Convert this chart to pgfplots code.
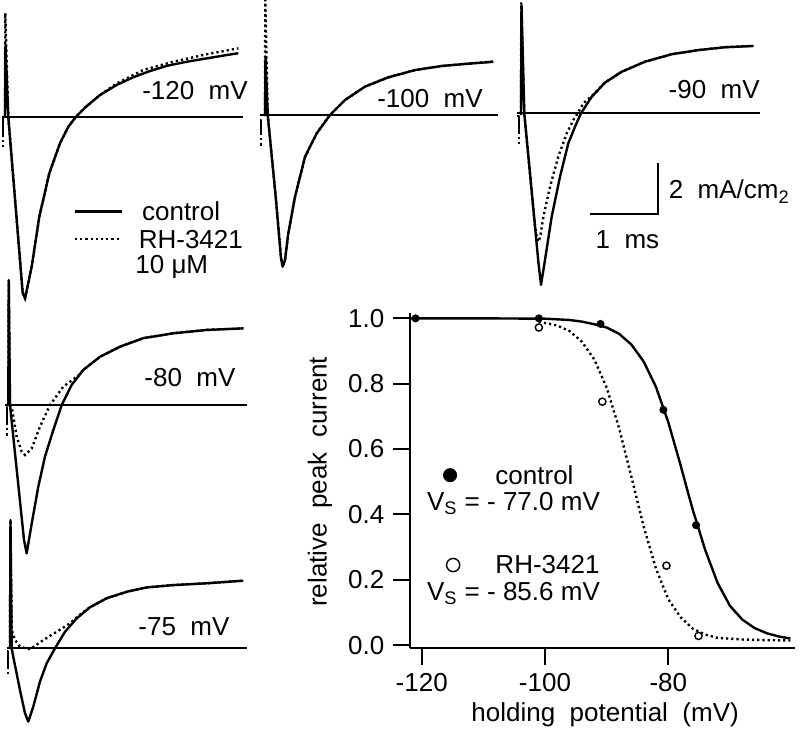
\documentclass[border=0pt]{standalone}
\usepackage{fontspec}
\setmainfont{Liberation Sans}
\usepackage{pgfplots}
\pgfplotsset{compat=1.18}
\begin{document}
\fontsize{13bp}{15bp}\selectfont
\begin{tikzpicture}[font=\fontsize{13bp}{15bp}\selectfont]
\useasboundingbox (0,0) rectangle (400bp,-366.5bp);
\pgfplotsset{
 trace/.style={hide axis, x=34.15bp, y=12.9bp, xmin=-0.1, xmax=3.6, ymin=-8, ymax=5, clip=false, anchor=south west},
 ctl/.style={black, line width=1.2bp, no markers, line join=round},
 rh/.style={black, line width=1.2bp, no markers, dash pattern=on 1.1bp off 1.5bp},
 base/.style={black, line width=0.9bp, no markers},
}
% ---------- -120 mV ----------
\begin{axis}[trace, at={(-0.915bp,-161.55bp)}]
\addplot[base] coordinates {(-0.05,0) (3.49,0)};
\addplot[rh] coordinates {(-0.025,-0.7) (-0.025,-1.2)};
\addplot[ctl] coordinates {(-0.045,-0.06) (-0.025,-0.06) (-0.025,-0.7)};
\addplot[rh] coordinates {(0,0) (0.004,4.02) (0.048,0) (0.259,-6.83) (0.293,-7.04) (0.391,-5.81) (0.502,-3.88) (0.649,-2.19) (0.805,-1.03) (0.927,-0.39) (1.04,0) (1.196,0.41) (1.391,0.84) (1.635,1.29) (2.025,1.81) (2.464,2.13) (2.953,2.42) (3.416,2.65)};
\addplot[ctl] coordinates {(0,-0.05) (0.007,2.78) (0.048,0) (0.259,-6.83) (0.293,-7.04) (0.391,-5.81) (0.502,-3.88) (0.649,-2.19) (0.805,-1.03) (0.927,-0.39) (1.04,0) (1.196,0.41) (1.391,0.84) (1.635,1.23) (1.879,1.53) (2.123,1.77) (2.367,1.97) (2.66,2.13) (2.953,2.26) (3.246,2.39) (3.416,2.46)};
\addplot[ctl] coordinates {(1.025,-3.68) (1.709,-3.68)};
\addplot[rh] coordinates {(1.025,-4.75) (1.709,-4.75)};
\end{axis}
% ---------- -100 mV ----------
\begin{axis}[trace, at={(129.085bp,-160.7bp)}]
\addplot[base] coordinates {(-0.073,0) (3.416,0)};
\addplot[rh] coordinates {(-0.055,-0.7) (-0.055,-1.2)};
\addplot[ctl] coordinates {(-0.07,-0.2) (-0.055,-0.2) (-0.055,-0.7)};
\addplot[rh] coordinates {(0,0) (0.004,4.46) (0.04,0) (0.161,-3.29) (0.234,-5.54) (0.259,-5.88) (0.293,-5.62) (0.341,-4.59) (0.439,-3.17) (0.586,-1.62) (0.757,-0.71) (0.952,0) (1.171,0.58) (1.464,1.10) (1.805,1.46) (2.196,1.74) (2.587,1.90) (2.977,1.99) (3.343,2.08)};
\addplot[ctl] coordinates {(0,-0.04) (0.007,2.26) (0.04,0) (0.161,-3.29) (0.234,-5.54) (0.259,-5.88) (0.293,-5.62) (0.341,-4.59) (0.439,-3.17) (0.586,-1.62) (0.757,-0.71) (0.952,0) (1.171,0.58) (1.464,1.10) (1.805,1.46) (2.196,1.74) (2.587,1.90) (2.977,1.99) (3.343,2.06)};
\end{axis}
% ---------- -90 mV ----------
\begin{axis}[trace, at={(257.085bp,-159.85bp)}]
\addplot[base] coordinates {(-0.063,0) (3.5,0)};
\addplot[rh] coordinates {(-0.03,-0.7) (-0.03,-1.2)};
\addplot[ctl] coordinates {(-0.063,-0.1) (-0.03,-0.1) (-0.03,-0.7)};
\addplot[rh] coordinates {(0,0) (0.004,4.3) (0.048,0) (0.2,-4.27) (0.235,-4.85) (0.254,-4.98) (0.28,-4.8) (0.328,-4.01) (0.425,-2.84) (0.546,-1.68) (0.669,-0.78) (0.766,-0.26) (0.83,0) (0.912,0.39) (1.035,0.66) (1.23,1.19) (1.474,1.61) (1.816,2.0) (2.207,2.29) (2.596,2.45) (2.987,2.56) (3.401,2.61)};
\addplot[ctl] coordinates {(0,-0.07) (0.007,4.2) (0.048,0) (0.254,-5.75) (0.293,-6.65) (0.351,-5.69) (0.449,-4.01) (0.571,-2.46) (0.693,-1.16) (0.791,-0.52) (0.878,0) (1.035,0.64) (1.23,1.19) (1.474,1.61) (1.816,2.0) (2.207,2.29) (2.596,2.45) (2.987,2.56) (3.401,2.61)};
\addplot[black, line width=1.2bp, no markers] coordinates {(1.01,-3.91) (2.01,-3.91) (2.01,-1.91)};
\end{axis}
% ---------- -80 mV ----------
\begin{axis}[trace, at={(0.735bp,-305.7bp)}]
\addplot[base] coordinates {(-0.048,0) (3.49,0)};
\addplot[rh] coordinates {(-0.015,-0.7) (-0.015,-1.23)};
\addplot[ctl] coordinates {(-0.04,-0.1) (-0.015,-0.1) (-0.015,-0.7)};
\addplot[rh] coordinates {(0,0) (0.007,4.84) (0.025,0) (0.05,-0.07) (0.123,-1.23) (0.196,-1.81) (0.245,-1.94) (0.343,-1.68) (0.464,-0.84) (0.611,0) (0.805,0.71) (1.025,1.14) (1.098,1.36) (1.343,1.87) (1.635,2.26) (1.977,2.59) (2.416,2.78) (2.905,2.91) (3.441,2.97)};
\addplot[ctl] coordinates {(0,-0.04) (0.007,4.84) (0.025,0) (0.23,-5.23) (0.269,-5.75) (0.343,-4.59) (0.439,-3.17) (0.537,-2.0) (0.659,-0.97) (0.782,0) (0.928,0.78) (1.098,1.36) (1.343,1.87) (1.635,2.26) (1.977,2.59) (2.416,2.78) (2.905,2.91) (3.441,2.97)};
\end{axis}
% ---------- -75 mV ----------
\begin{axis}[trace, at={(1.585bp,-427.35bp)}]
\addplot[base] coordinates {(-0.048,0) (3.465,0)};
\addplot[rh] coordinates {(-0.025,-0.7) (-0.025,-1.1)};
\addplot[ctl] coordinates {(-0.045,-0.1) (-0.025,-0.1) (-0.025,-0.7)};
\addplot[rh] coordinates {(0,0) (0.007,4.97) (0.025,0.71) (0.073,0.32) (0.146,0.06) (0.293,-0.04) (0.488,0.32) (0.684,0.64) (0.878,0.97) (1.05,1.36) (1.171,1.59) (1.416,1.94) (1.709,2.19) (2.001,2.36) (2.391,2.45) (2.88,2.52) (3.416,2.62)};
\addplot[ctl] coordinates {(0,-0.03) (0.007,4.97) (0.025,0) (0.048,-0.33) (0.146,-1.62) (0.22,-2.52) (0.268,-2.84) (0.341,-2.26) (0.439,-1.29) (0.537,-0.58) (0.659,0) (0.805,0.64) (0.977,1.16) (1.171,1.59) (1.416,1.94) (1.709,2.19) (2.001,2.36) (2.391,2.45) (2.88,2.52) (3.416,2.62)};
\end{axis}
% ---------- panel texts ----------
\node at (97.5bp,-45.4bp) {-120\ \ mV};
\node at (215bp,-49.2bp) {-100\ \ mV};
\node at (357.1bp,-45bp) {-90\ \ mV};
\node at (95bp,-188.8bp) {-80\ \ mV};
\node at (92bp,-313.3bp) {-75\ \ mV};
\node[anchor=west, inner sep=0] at (70.85bp,-105.8bp) {control};
\node[anchor=west, inner sep=0] at (69.2bp,-120bp) {RH-3421};
\node[anchor=west, inner sep=0] at (67.5bp,-133.3bp) {10 μM};
\node[anchor=west, inner sep=0] at (334.2bp,-95.8bp) {2\ \ mA/cm\textsubscript{2}};
\node at (313.7bp,-120bp) {1\ \ ms};
% ---------- inactivation curve ----------
\begin{axis}[at={(205bp,-324bp)}, anchor=south west, x=3.0825bp, y=163.35bp,
  xmin=-121.9, xmax=-59.4, ymin=-0.009, ymax=1.016,
  axis lines=left, axis line style={-, line width=1.1bp},
  x axis line style={-}, y axis line style={-},
  tick style={black, line width=1.1bp}, major tick length=8.3bp, tick align=outside,
  xtick={-120,-100,-80}, ytick={0,0.2,0.4,0.6,0.8,1.0},
  yticklabel style={/pgf/number format/.cd, fixed, fixed zerofill, precision=1},
  /pgf/number format/assume math mode=true,
  clip=false,
  xlabel={holding\ \ potential\ \ (mV)},
  xlabel style={at={(axis description cs:0.5065,-0.2)}, anchor=center},
  ylabel={relative\ \ peak\ \ current},
  ylabel style={at={(axis description cs:-0.2338,0.4964)}, anchor=center},
]
\addplot[ctl] coordinates {(-121.8,1.0) (-110,1.0) (-100,0.999) (-96,0.995) (-94,0.99) (-92,0.982) (-90,0.972) (-88,0.953) (-86,0.92) (-84,0.868) (-82,0.79) (-80,0.682) (-78,0.55) (-77,0.48) (-76,0.412) (-74,0.29) (-72,0.19) (-70,0.12) (-68,0.078) (-66,0.052) (-64,0.036) (-62,0.026) (-60.2,0.02)};
\addplot[rh] coordinates {(-101,0.99) (-98,0.978) (-96,0.961) (-94,0.928) (-92,0.874) (-90,0.788) (-88,0.665) (-86,0.516) (-84,0.363) (-82,0.234) (-80,0.14) (-78,0.085) (-76,0.05) (-74,0.032) (-72,0.022) (-68,0.017) (-64,0.015) (-60.2,0.014)};
\addplot[only marks, mark=*, mark size=1.8bp, black] coordinates {(-121,1.0) (-101,1.0) (-91,0.983) (-80.8,0.72) (-75.5,0.367)};
\addplot[only marks, mark=*, mark size=1.8bp, black, mark options={fill=white, line width=0.7bp}] coordinates {(-101,0.972) (-90.7,0.745) (-80.3,0.243) (-75.1,0.028)};
\addplot[only marks, mark=*, mark size=3.3bp, black] coordinates {(-115.4,0.52)};
\addplot[only marks, mark=*, mark size=3.3bp, black, mark options={fill=white, line width=0.7bp}] coordinates {(-114.9,0.245)};
\node[anchor=west, inner sep=0] at (axis cs:-108.1,0.52) {control};
\node[anchor=west, inner sep=0] at (axis cs:-119.2,0.434) {V\textsubscript{S} = - 77.0 mV};
\node[anchor=west, inner sep=0] at (axis cs:-108.1,0.245) {RH-3421};
\node[anchor=west, inner sep=0] at (axis cs:-119.2,0.158) {V\textsubscript{S} = - 85.6 mV};
\end{axis}
\end{tikzpicture}
\end{document}
